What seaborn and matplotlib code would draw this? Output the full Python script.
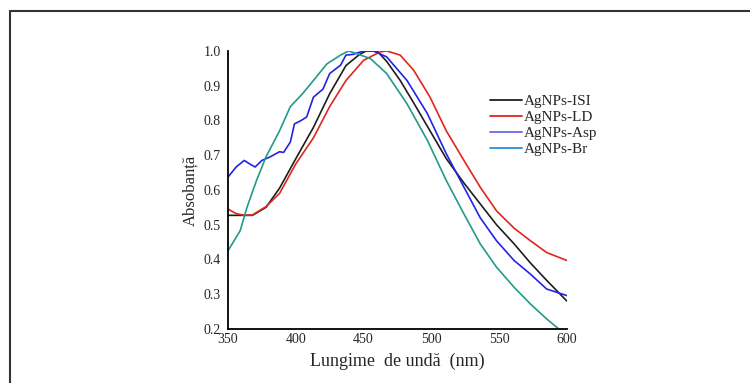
"""Absorbance spectra of the four AgNPs samples."""
import numpy as np
import pandas as pd
import matplotlib
matplotlib.use("Agg")
import matplotlib.pyplot as plt
from matplotlib.lines import Line2D
import seaborn as sns

# values
isi_x = [350, 360, 368, 378, 388, 400, 413, 425, 437, 447, 452, 460, 467, 477, 487,
         499, 511, 524, 536, 548, 561, 573, 585, 600]
isi_y = [0.527, 0.527, 0.527, 0.55, 0.605, 0.69, 0.78, 0.877, 0.958, 0.99, 1.0, 1.0, 0.97,
         0.915, 0.85, 0.77, 0.69, 0.62, 0.56, 0.50, 0.445, 0.39, 0.34, 0.28]

ld_x = [350, 356, 362, 368, 378, 388, 400, 413, 425, 437, 450, 462, 467, 477, 487, 499,
        511, 524, 536, 548, 561, 573, 585, 600]
ld_y = [0.545, 0.532, 0.527, 0.528, 0.552, 0.59, 0.675, 0.75, 0.84, 0.915, 0.973, 0.997,
        1.0, 0.988, 0.944, 0.867, 0.77, 0.685, 0.608, 0.54, 0.49, 0.454, 0.42, 0.397]

asp_x = [350, 356, 362, 366, 370, 375, 381, 388, 391, 396, 399, 404, 408, 413, 420, 425,
         433, 437, 442, 450, 457, 467, 482, 497, 511, 524, 536, 548, 561, 573, 585, 600]
asp_y = [0.637, 0.666, 0.685, 0.675, 0.666, 0.685, 0.695, 0.71, 0.708, 0.738, 0.79, 0.80,
         0.81, 0.867, 0.89, 0.935, 0.959, 0.988, 0.99, 1.0, 1.0, 0.983, 0.915, 0.82, 0.704,
         0.608, 0.52, 0.454, 0.397, 0.358, 0.315, 0.296]

br_x = [350, 359, 364, 371, 378, 388, 396, 405, 413, 423, 433, 439, 445, 455, 467, 482,
        497, 511, 524, 536, 548, 561, 573, 585, 594]
br_y = [0.425, 0.483, 0.55, 0.627, 0.695, 0.77, 0.84, 0.877, 0.915, 0.963, 0.988, 1.0,
        0.992, 0.978, 0.935, 0.848, 0.743, 0.627, 0.531, 0.445, 0.378, 0.32, 0.272, 0.229,
        0.2]

labels = ["AgNPs-ISI", "AgNPs-LD", "AgNPs-Asp", "AgNPs-Br"]
colors = ["#1e1e1e", "#e0251f", "#2323e6", "#219a8c"]
legend_colors = ["#1e1e1e", "#e0251f", "#6a6ae8", "#2a8fd6"]

x_ticks = [350, 400, 450, 500, 550, 600]
y_ticks = [0.2, 0.3, 0.4, 0.5, 0.6, 0.7, 0.8, 0.9, 1.0]


def main():
    frames = []
    for name, xs, ys in zip(labels, [isi_x, ld_x, asp_x, br_x], [isi_y, ld_y, asp_y, br_y]):
        frames.append(pd.DataFrame({"x": xs, "y": ys, "sample": name}))
    df = pd.concat(frames, ignore_index=True)

    sns.set_theme(style="white")
    plt.rcParams["font.family"] = ["Liberation Serif", "DejaVu Serif"]

    fig = plt.figure(figsize=(7.5, 3.83), dpi=100)
    ax = fig.add_axes([0.304, 0.141, 0.452, 0.726])

    sns.lineplot(data=df, x="x", y="y", hue="sample", palette=dict(zip(labels, colors)),
                 linewidth=1.2, legend=False, ax=ax, sort=False)

    ax.set_xlim(350, 600)
    ax.set_ylim(0.2, 1.0)
    ax.set_xticks(x_ticks)
    ax.set_yticks(y_ticks)
    ax.set_xticklabels([str(t) for t in x_ticks], fontsize=10)
    ax.set_yticklabels([f"{t:.1f}" for t in y_ticks], fontsize=10)
    ax.tick_params(axis="x", length=0, pad=3)
    ax.tick_params(axis="y", length=0, pad=5)
    for side in ["top", "right"]:
        ax.spines[side].set_visible(False)
    for side in ["left", "bottom"]:
        ax.spines[side].set_color("black")
        ax.spines[side].set_linewidth(1.3)

    ax.set_xlabel("Lungime  de undă  (nm)", fontsize=13, labelpad=5)
    ax.set_ylabel("Absobanță", fontsize=12, labelpad=4)

    handles = [Line2D([0], [0], color=c, lw=1.3) for c in legend_colors]
    ax.legend(handles, labels, loc="upper left", bbox_to_anchor=(0.75, 0.87),
              frameon=False, fontsize=11, handlelength=2.1, handletextpad=0.15,
              labelspacing=0.15, borderpad=0)

    # page frame lines around the figure
    fig.add_artist(Line2D([10 / 750, 1], [1 - 11 / 383, 1 - 11 / 383], color="#333333", lw=1.5))
    fig.add_artist(Line2D([10 / 750, 10 / 750], [0, 1 - 11 / 383], color="#333333", lw=1.5))

    fig.savefig("out.png", dpi=100)


if __name__ == '__main__':
    main()
